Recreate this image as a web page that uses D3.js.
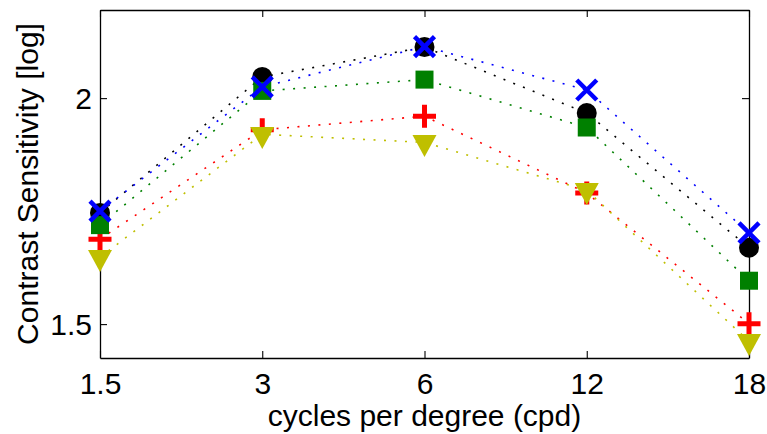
<!DOCTYPE html>
<html>
<head>
<meta charset="utf-8">
<script src="https://cdn.jsdelivr.net/npm/d3@7"></script>
<style>
  html, body { margin: 0; padding: 0; background: #fff; }
  svg { display: block; font-family: "Liberation Sans", Arial, Helvetica, sans-serif; }
</style>
</head>
<body>
<svg id="chart" width="767" height="434"></svg>
<script>
const categories = ['1.5', '3', '6', '12', '18'];
const yTicks = [1.5, 2];

// one array of values per series, in the order of categories
const blueX = [1.750, 2.025, 2.114, 2.018, 1.702];
const blackCircle = [1.746, 2.047, 2.113, 1.967, 1.669];
const greenSquare = [1.719, 2.016, 2.041, 1.935, 1.596];
const redPlus = [1.688, 1.930, 1.960, 1.790, 1.501];
const yellowTri = [1.648, 1.920, 1.902, 1.796, 1.462];

const series = [
  { values: redPlus, color: '#ff0000', marker: 'plus' },
  { values: yellowTri, color: '#bfbf00', marker: 'triangle' },
  { values: blackCircle, color: '#000000', marker: 'circle' },
  { values: greenSquare, color: '#008000', marker: 'square' },
  { values: blueX, color: '#0000ff', marker: 'x' },
];

const W = 767, H = 434;
const m = { left: 100, right: 18, top: 10, bottom: 76 };
const fontSize = '30px';

const svg = d3.select('#chart');
const x = d3.scalePoint().domain(categories).range([m.left, W - m.right]);
const y = d3.scaleLinear().domain([1.425, 2.195]).range([H - m.bottom, m.top]);

// dotted connecting lines
const line = d3.line()
  .x((d, i) => x(categories[i]))
  .y((d) => y(d));

svg.append('g')
  .selectAll('path')
  .data(series)
  .join('path')
  .attr('d', (s) => line(s.values))
  .attr('fill', 'none')
  .attr('stroke', (s) => s.color)
  .attr('stroke-width', 1.6)
  .attr('stroke-dasharray', '2 8.5');

// axes box with inward ticks (matlab style)
const tickLen = 7;
const axB = d3.axisBottom(x).tickSize(-tickLen).tickPadding(15).tickSizeOuter(0);
const axT = d3.axisTop(x).tickSize(-tickLen).tickFormat('').tickSizeOuter(0);
const axL = d3.axisLeft(y).tickValues(yTicks).tickFormat(d3.format('')).tickSize(-tickLen).tickPadding(8).tickSizeOuter(0);
const axR = d3.axisRight(y).tickValues(yTicks).tickFormat('').tickSize(-tickLen).tickSizeOuter(0);

const gB = svg.append('g').attr('transform', `translate(0,${H - m.bottom})`).call(axB);
const gT = svg.append('g').attr('transform', `translate(0,${m.top})`).call(axT);
const gL = svg.append('g').attr('transform', `translate(${m.left},0)`).call(axL);
const gR = svg.append('g').attr('transform', `translate(${W - m.right},0)`).call(axR);

[gB, gT, gL, gR].forEach((g) => {
  g.selectAll('path.domain').attr('stroke', '#000').attr('stroke-width', 1.3);
  g.selectAll('.tick line').attr('stroke', '#000').attr('stroke-width', 1.1);
  g.selectAll('.tick text')
    .attr('fill', '#000')
    .style('font-size', fontSize)
    .style('font-family', '"Liberation Sans", Arial, sans-serif');
});
gB.selectAll('.tick text').attr('dy', '0.71em');
gL.selectAll('.tick text').attr('dy', '0.36em');

// markers
const markers = svg.append('g');
series.forEach((s) => {
  const g = markers.append('g');
  const pts = s.values.map((v, i) => [x(categories[i]), y(v)]);
  if (s.marker === 'circle') {
    g.selectAll('circle').data(pts).join('circle')
      .attr('cx', (d) => d[0]).attr('cy', (d) => d[1]).attr('r', 10)
      .attr('fill', s.color);
  } else if (s.marker === 'square') {
    g.selectAll('rect').data(pts).join('rect')
      .attr('x', (d) => d[0] - 9).attr('y', (d) => d[1] - 9)
      .attr('width', 18).attr('height', 18)
      .attr('fill', s.color);
  } else if (s.marker === 'triangle') {
    // data point sits on the triangle's centroid
    g.selectAll('path').data(pts).join('path')
      .attr('d', (d) => `M${d[0] - 12},${d[1] - 7.3}L${d[0] + 12},${d[1] - 7.3}L${d[0]},${d[1] + 14.7}Z`)
      .attr('fill', s.color);
  } else if (s.marker === 'plus') {
    g.selectAll('path').data(pts).join('path')
      .attr('d', (d) => `M${d[0] - 11.5},${d[1]}H${d[0] + 11.5}M${d[0]},${d[1] - 11.5}V${d[1] + 11.5}`)
      .attr('stroke', s.color).attr('stroke-width', 5).attr('fill', 'none');
  } else if (s.marker === 'x') {
    g.selectAll('path').data(pts).join('path')
      .attr('d', (d) => `M${d[0] - 10},${d[1] - 10}L${d[0] + 10},${d[1] + 10}M${d[0] - 10},${d[1] + 10}L${d[0] + 10},${d[1] - 10}`)
      .attr('stroke', s.color).attr('stroke-width', 4.5).attr('fill', 'none');
  }
});

// axis titles
svg.append('text')
  .attr('x', (m.left + W - m.right) / 2)
  .attr('y', 426)
  .attr('text-anchor', 'middle')
  .style('font-size', fontSize)
  .attr('fill', '#000')
  .text('cycles per degree (cpd)');

svg.append('text')
  .attr('transform', `translate(38,${(m.top + H - m.bottom) / 2}) rotate(-90)`)
  .attr('text-anchor', 'middle')
  .style('font-size', fontSize)
  .attr('fill', '#000')
  .text('Contrast Sensitivity [log]');
</script>
</body>
</html>
